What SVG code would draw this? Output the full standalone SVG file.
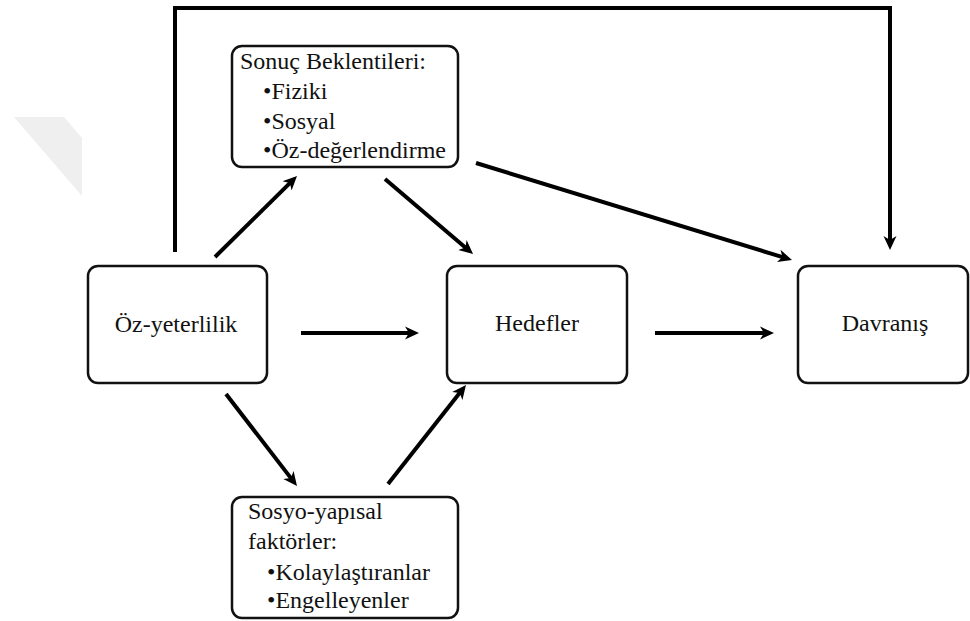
<svg xmlns="http://www.w3.org/2000/svg" width="970" height="621" viewBox="0 0 970 621">
  <style>
    .box { fill: #fff; stroke: #111; stroke-width: 2.5; }
    .lbl { font-size: 24px; fill: #111; }
    .mid { text-anchor: middle; }
    .wire { fill: none; stroke: #000; stroke-width: 4; marker-end: url(#head); }
    .loop { fill: none; stroke: #000; stroke-width: 4; stroke-linejoin: miter; marker-end: url(#head); }
  </style>
  <defs>
    <marker id="head" markerUnits="userSpaceOnUse" viewBox="0 -7 16 14" markerWidth="16" markerHeight="14" refX="5" refY="0" orient="auto">
      <path d="M0,-6.5 L14,0 L0,6.5 L4,0 z" fill="#000"/>
    </marker>
  </defs>

  <rect width="970" height="621" fill="#fff"/>

  <!-- faint background mark -->
  <polygon points="14,117 64,117 82,138 82,196" fill="#efefef"/>

  <g id="connectors">
    <path class="loop" d="M175,252 V8 H890 V241"/>
    <path class="wire" d="M215,257 L290.6,182.3"/>
    <path class="wire" d="M385,179 L466.2,248.2"/>
    <path class="wire" d="M476,163 L783.4,257.4"/>
    <path class="wire" d="M301,333 L410,333"/>
    <path class="wire" d="M655,333 L765,333"/>
    <path class="wire" d="M226,394 L291.5,478.9"/>
    <path class="wire" d="M388,484 L460.4,392.1"/>
  </g>

  <g id="sonuc-beklentileri" font-family="'Liberation Serif', serif">
    <rect class="box" x="232" y="46" width="226" height="121" rx="10"/>
    <text class="lbl" x="240" y="69">Sonuç Beklentileri:</text>
    <text class="lbl" x="263" y="99">•Fiziki</text>
    <text class="lbl" x="263" y="129">•Sosyal</text>
    <text class="lbl" x="263" y="158">•Öz-değerlendirme</text>
  </g>

  <g id="oz-yeterlilik" font-family="'Liberation Serif', serif">
    <rect class="box" x="88" y="266" width="179" height="117" rx="10"/>
    <text class="lbl mid" x="176" y="332">Öz-yeterlilik</text>
  </g>

  <g id="hedefler" font-family="'Liberation Serif', serif">
    <rect class="box" x="447" y="266" width="180" height="117" rx="10"/>
    <text class="lbl mid" x="537" y="331">Hedefler</text>
  </g>

  <g id="davranis" font-family="'Liberation Serif', serif">
    <rect class="box" x="798" y="266" width="170" height="117" rx="10"/>
    <text class="lbl mid" x="885" y="331">Davranış</text>
  </g>

  <g id="sosyo-yapisal" font-family="'Liberation Serif', serif">
    <rect class="box" x="232" y="497" width="226" height="121" rx="10"/>
    <text class="lbl" x="248" y="519">Sosyo-yapısal</text>
    <text class="lbl" x="248" y="549">faktörler:</text>
    <text class="lbl" x="267" y="580">•Kolaylaştıranlar</text>
    <text class="lbl" x="267" y="608">•Engelleyenler</text>
  </g>
</svg>
